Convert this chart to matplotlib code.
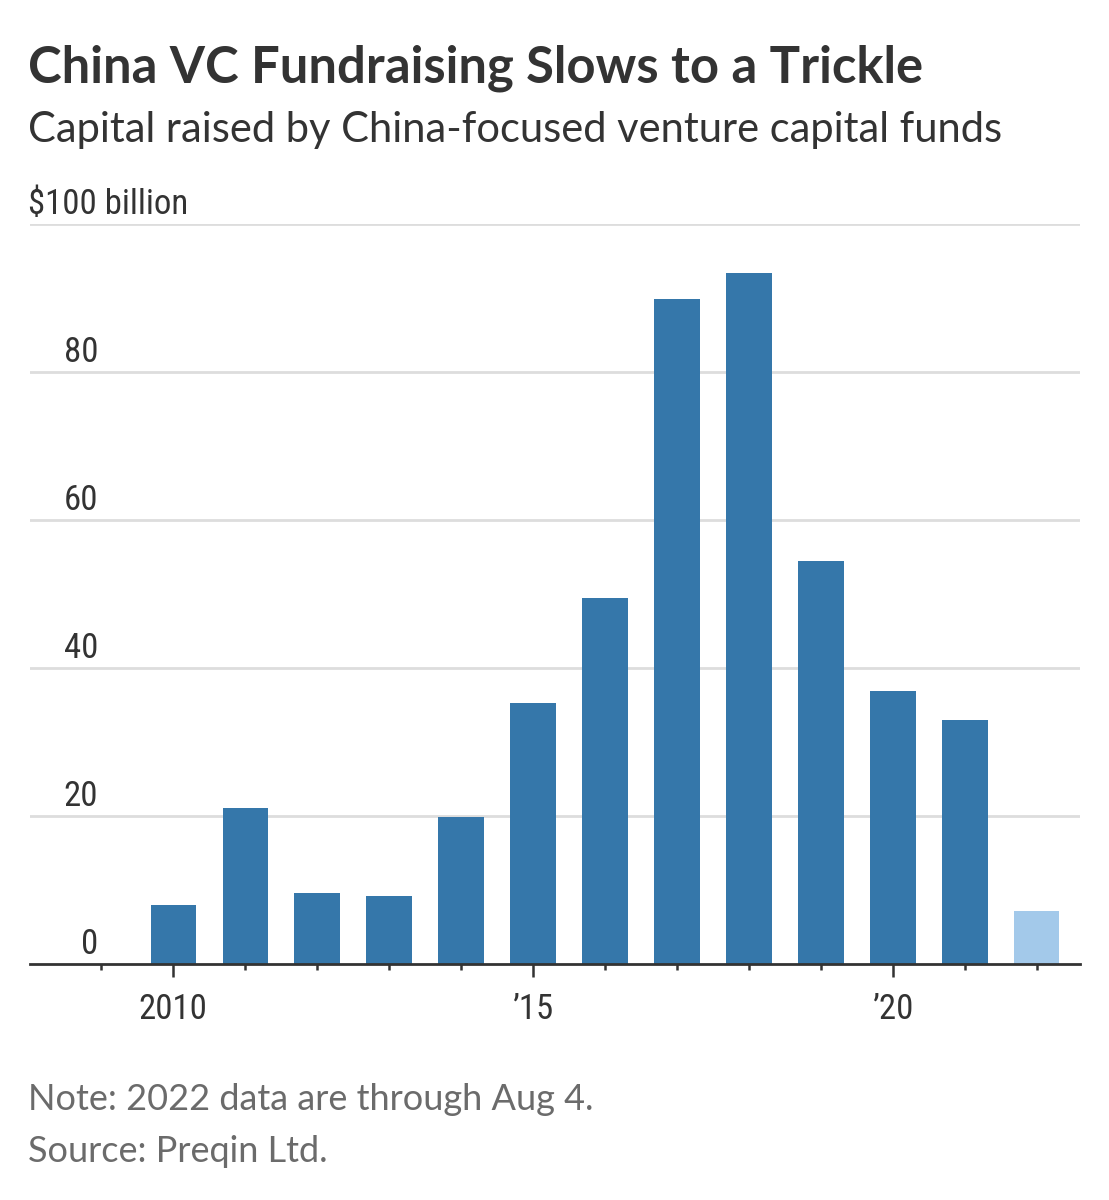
import numpy as np
import matplotlib.pyplot as plt
from matplotlib import font_manager
from matplotlib.ticker import MultipleLocator

# data ($ billion)
years = [2010, 2011, 2012, 2013, 2014, 2015, 2016, 2017, 2018, 2019, 2020, 2021, 2022]
capital = [8.0, 21.1, 9.6, 9.2, 19.9, 35.3, 49.5, 89.9, 93.4, 54.5, 36.9, 33.0, 7.2]
partial_year = 2022
y_ticks = [0, 20, 40, 60, 80]
x_major = [2010, 2015, 2020]
x_labels = ['2010', '\u201915', '\u201920']

names = {f.name for f in font_manager.fontManager.ttflist}
narrow = 'Lato'
for cand in ['Roboto Condensed', 'Open Sans Condensed', 'Liberation Sans Narrow']:
    if cand in names:
        narrow = cand
        break
plt.rcParams['font.family'] = [narrow, 'DejaVu Sans']
lab_size = 25 if narrow != 'Lato' else 24

dark = '#333333'
blue = '#3577aa'
light = '#a3c9ea'

fig = plt.figure(figsize=(11.09, 12), dpi=100)
ax = fig.add_axes([30 / 1109, 1 - 964 / 1200, 1050 / 1109, 740 / 1200])

colors = [light if y == partial_year else blue for y in years]
ax.bar(years, capital, width=0.63, color=colors, zorder=3)

ax.set_xlim(2008.01, 2022.6)
ax.set_ylim(0, 100)

# gridlines + labels sitting above them
for v in y_ticks[1:] + [100]:
    ax.axhline(v, color='#dddddd', lw=2, zorder=1)
for v in y_ticks:
    ax.text(0.065, v + 0.45, str(v), transform=ax.get_yaxis_transform(),
            ha='right', va='bottom', fontsize=lab_size, color=dark)
ax.text(-0.002, 100.45, '$100 billion', transform=ax.get_yaxis_transform(),
        ha='left', va='bottom', fontsize=lab_size, color=dark)

ax.set_yticks([])
ax.set_xticks(x_major)
ax.set_xticklabels(x_labels)
ax.xaxis.set_minor_locator(MultipleLocator(1))
ax.tick_params(axis='x', which='major', length=9, width=1.8, color=dark,
               labelsize=lab_size, labelcolor=dark, pad=12)
ax.tick_params(axis='x', which='minor', length=4.5, width=1.8, color=dark)

for s in ['top', 'right', 'left']:
    ax.spines[s].set_visible(False)
ax.spines['bottom'].set_color(dark)
ax.spines['bottom'].set_linewidth(2)
ax.spines['bottom'].set_zorder(4)

fig.text(28 / 1109, 1 - 68 / 1200, 'China VC Fundraising Slows to a Trickle',
         fontsize=36.5, fontweight='bold', color=dark, va='center', family='Lato')
fig.text(28 / 1109, 1 - 130 / 1200, 'Capital raised by China-focused venture capital funds',
         fontsize=30, color=dark, va='center', family='Lato')
fig.text(28 / 1109, 1 - 1100 / 1200, 'Note: 2022 data are through Aug 4.',
         fontsize=26, color='#6b6b6b', va='center', family='Lato')
fig.text(28 / 1109, 1 - 1152 / 1200, 'Source: Preqin Ltd.',
         fontsize=26, color='#6b6b6b', va='center', family='Lato')

fig.savefig('out.png', dpi=100, facecolor='white')
